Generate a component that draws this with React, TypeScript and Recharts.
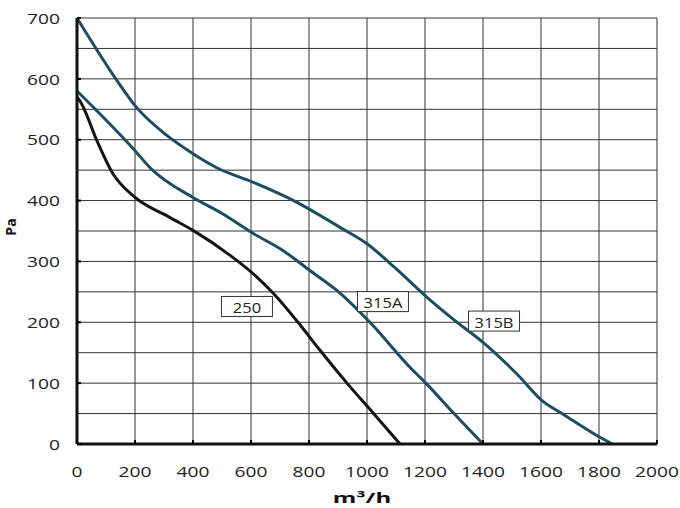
import { LineChart, Line, XAxis, YAxis, CartesianGrid, ReferenceDot } from 'recharts';

// curva 250
const flow250 = [0, 10, 69, 124, 193, 321, 400, 528, 607, 676, 762, 838, 931, 1021, 1114];
const pa250 = [570, 564, 498, 444, 408, 372, 351, 310, 280, 248, 200, 154, 100, 51, 0];

// curva 315A
const flow315A = [0, 200, 252, 400, 503, 608, 710, 803, 907, 1010, 1148, 1207, 1300, 1400];
const pa315A = [580, 482, 454, 405, 378, 346, 318, 285, 248, 200, 126, 98, 50, 0];

// curva 315B
const flow315B = [0, 138, 200, 310, 400, 482, 608, 747, 907, 1000, 1100, 1207, 1300, 1400, 1517, 1607, 1676, 1803, 1845];
const pa315B = [700, 597, 556, 507, 477, 454, 430, 400, 356, 329, 288, 241, 204, 167, 115, 70, 49, 11, 0];

const xTicks = [0, 200, 400, 600, 800, 1000, 1200, 1400, 1600, 1800, 2000];
const yTicks = [0, 50, 100, 150, 200, 250, 300, 350, 400, 450, 500, 550, 600, 650, 700];

const curveLabels = [
  { name: '250', x: 586, y: 226 },
  { name: '315A', x: 1055, y: 234 },
  { name: '315B', x: 1438, y: 202 },
];

const toPoints = (xs: number[], ys: number[]) => xs.map((x, i) => ({ x, y: ys[i] }));

const FONT = '"Open Sans", sans-serif';
const STRETCH = 1.28; // el original tiene el texto ensanchado

const YTick = (props: any) => {
  const { y, payload } = props;
  const v = payload.value;
  if (v % 100 !== 0) return null;
  return (
    <g>
      <line x1={77} x2={81} y1={y} y2={y} stroke="#000" strokeWidth={2} />
      <text
        transform={`translate(60, ${y}) scale(${STRETCH}, 1)`}
        textAnchor="end"
        dominantBaseline="central"
        fontSize={15}
        fill="#222"
        fontFamily={FONT}
      >
        {v}
      </text>
    </g>
  );
};

const XTick = (props: any) => {
  const { x, payload } = props;
  return (
    <g>
      <line x1={x} x2={x} y1={444} y2={440} stroke="#000" strokeWidth={2} />
      <text
        transform={`translate(${x}, 471) scale(${STRETCH}, 1)`}
        textAnchor="middle"
        dominantBaseline="central"
        fontSize={15}
        fill="#222"
        fontFamily={FONT}
      >
        {payload.value}
      </text>
    </g>
  );
};

const LabelBox = (props: any) => {
  const { cx, cy, text } = props;
  const w = 51;
  return (
    <g>
      <rect x={cx - w / 2} y={cy - 10} width={w} height={20} fill="#fff" stroke="#333" strokeWidth={1} />
      <text
        transform={`translate(${cx}, ${cy + 1}) scale(1.1, 1)`}
        textAnchor="middle"
        dominantBaseline="central"
        fontSize={15}
        fill="#222"
        fontFamily={FONT}
      >
        {text}
      </text>
    </g>
  );
};

const XTitle = () => (
  <text
    transform="translate(362, 497) scale(1.6, 1)"
    textAnchor="middle"
    dominantBaseline="central"
    fontSize={15}
    fontWeight="bold"
    fill="#111"
    fontFamily={FONT}
  >
    m³/h
  </text>
);

const YTitle = () => (
  <text
    transform="translate(10, 227) rotate(-90)"
    textAnchor="middle"
    dominantBaseline="central"
    fontSize={14}
    fontWeight="bold"
    fill="#111"
    fontFamily={FONT}
  >
    Pa
  </text>
);

export default function App() {
  return (
    <div style={{ position: 'absolute', left: 0, top: 0, background: '#fff' }}>
      <LineChart width={680} height={508} margin={{ top: 18, right: 23, bottom: 0, left: 0 }}>
        <CartesianGrid stroke="#333" strokeWidth={1} />
        <XAxis
          dataKey="x"
          type="number"
          domain={[0, 2000]}
          ticks={xTicks}
          height={64}
          tick={<XTick />}
          tickLine={false}
          axisLine={{ stroke: '#111', strokeWidth: 3 }}
          label={{ content: () => <XTitle /> }}
        />
        <YAxis
          type="number"
          domain={[0, 700]}
          ticks={yTicks}
          width={77}
          tick={<YTick />}
          tickLine={false}
          axisLine={{ stroke: '#111', strokeWidth: 3 }}
          label={{ content: () => <YTitle /> }}
        />
        <Line data={toPoints(flow250, pa250)} dataKey="y" type="monotone" stroke="#151515" strokeWidth={3} dot={false} isAnimationActive={false} />
        <Line data={toPoints(flow315A, pa315A)} dataKey="y" type="monotone" stroke="#1d4d60" strokeWidth={3} dot={false} isAnimationActive={false} />
        <Line data={toPoints(flow315B, pa315B)} dataKey="y" type="monotone" stroke="#1d4d60" strokeWidth={3} dot={false} isAnimationActive={false} />
        {curveLabels.map((l) => (
          <ReferenceDot key={l.name} x={l.x} y={l.y} r={0} shape={(p: any) => <LabelBox {...p} text={l.name} />} />
        ))}
      </LineChart>
    </div>
  );
}
